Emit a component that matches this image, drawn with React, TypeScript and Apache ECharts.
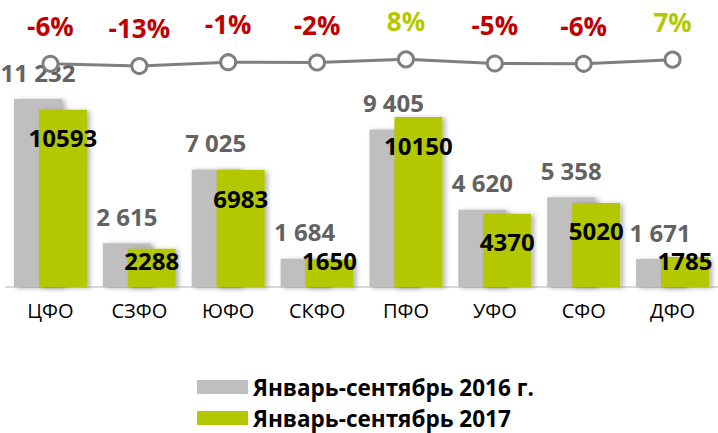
import React, { useEffect, useRef } from "react";
import * as echarts from "echarts";

const categories = ["ЦФО", "СЗФО", "ЮФО", "СКФО", "ПФО", "УФО", "СФО", "ДФО"];
const values2016 = [11232, 2615, 7025, 1684, 9405, 4620, 5358, 1671];
const values2017 = [10593, 2288, 6983, 1650, 10150, 4370, 5020, 1785];
const changePct = [-6, -13, -1, -2, 8, -5, -6, 7];
const seriesNames = ["Январь-сентябрь 2016 г.", "Январь-сентябрь 2017"];

const GRAY = "#BFBFBF";
const GREEN = "#B3C800";
const RED = "#C00000";
const FONT = "'Open Sans', 'DejaVu Sans', sans-serif";

const fmtSpace = (v: number) =>
  String(v).replace(/\B(?=(\d{3})+(?!\d))/g, " ");

export default function App() {
  const ref = useRef<HTMLDivElement>(null);

  useEffect(() => {
    if (!ref.current) return;
    const chart = echarts.init(ref.current, undefined, { renderer: "svg" });

    const shadow = {
      shadowBlur: 5,
      shadowColor: "rgba(0,0,0,0.3)",
      shadowOffsetX: 3,
      shadowOffsetY: 1,
    };

    const greenData = values2017.map((v) => ({
      value: v,
      label:
        v < 3000
          ? { position: "insideBottom", distance: 15 }
          : { position: "insideTop", distance: 16 },
    }));

    const pctData = changePct.map((p) => ({
      value: p,
      label: { color: p >= 0 ? GREEN : RED },
    }));

    const legendCommon = {
      orient: "horizontal",
      left: 197,
      padding: 0,
      itemWidth: 51,
      itemHeight: 14,
      icon: "rect",
      textStyle: {
        fontFamily: FONT,
        fontSize: 22.5,
        fontWeight: "bold",
        color: "#000",
        lineHeight: 24,
      },
    };

    chart.setOption({
      animation: false,
      textStyle: { fontFamily: FONT },
      grid: { left: 6, right: 1, top: 19.2, bottom: 146, containLabel: false },
      legend: [
        { ...legendCommon, data: [seriesNames[0]], top: 375 },
        { ...legendCommon, data: [seriesNames[1]], top: 406 },
      ],
      xAxis: {
        type: "category",
        data: categories,
        axisTick: { show: false },
        axisLine: { lineStyle: { color: "#D9D9D9", width: 2 } },
        axisLabel: {
          fontFamily: FONT,
          fontSize: 20,
          color: "#000",
          margin: 13,
        },
      },
      yAxis: [
        { type: "value", min: 0, max: 16000, show: false },
        { type: "value", min: -705, max: 133.7, show: false },
      ],
      series: [
        {
          name: seriesNames[0],
          type: "bar",
          data: values2016,
          barWidth: 48,
          barGap: "-48%",
          itemStyle: { color: GRAY, ...shadow },
          label: {
            show: true,
            position: "top",
            distance: 15,
            formatter: (p: any) => fmtSpace(p.value),
            fontFamily: FONT,
            fontSize: 24,
            fontWeight: "bold",
            color: "#626262",
          },
          z: 2,
        },
        {
          name: seriesNames[1],
          type: "bar",
          data: greenData,
          barWidth: 48,
          itemStyle: { color: GREEN, ...shadow },
          label: {
            show: true,
            fontFamily: FONT,
            fontSize: 24,
            fontWeight: "bold",
            color: "#000",
          },
          z: 3,
        },
        {
          name: "change",
          type: "line",
          yAxisIndex: 1,
          data: pctData,
          symbol: "circle",
          symbolSize: 15,
          showAllSymbol: true,
          lineStyle: { color: "#7F7F7F", width: 3 },
          itemStyle: { color: "#FFFFFF", borderColor: "#7F7F7F", borderWidth: 3 },
          label: {
            show: true,
            position: "top",
            distance: 16,
            formatter: (p: any) => `${p.value}%`,
            fontFamily: FONT,
            fontSize: 26,
            fontWeight: "bold",
          },
          z: 5,
        },
      ],
    });

    return () => chart.dispose();
  }, []);

  return (
    <div
      ref={ref}
      style={{ position: "fixed", left: 0, top: 0, width: 718, height: 433, background: "#fff" }}
    />
  );
}
